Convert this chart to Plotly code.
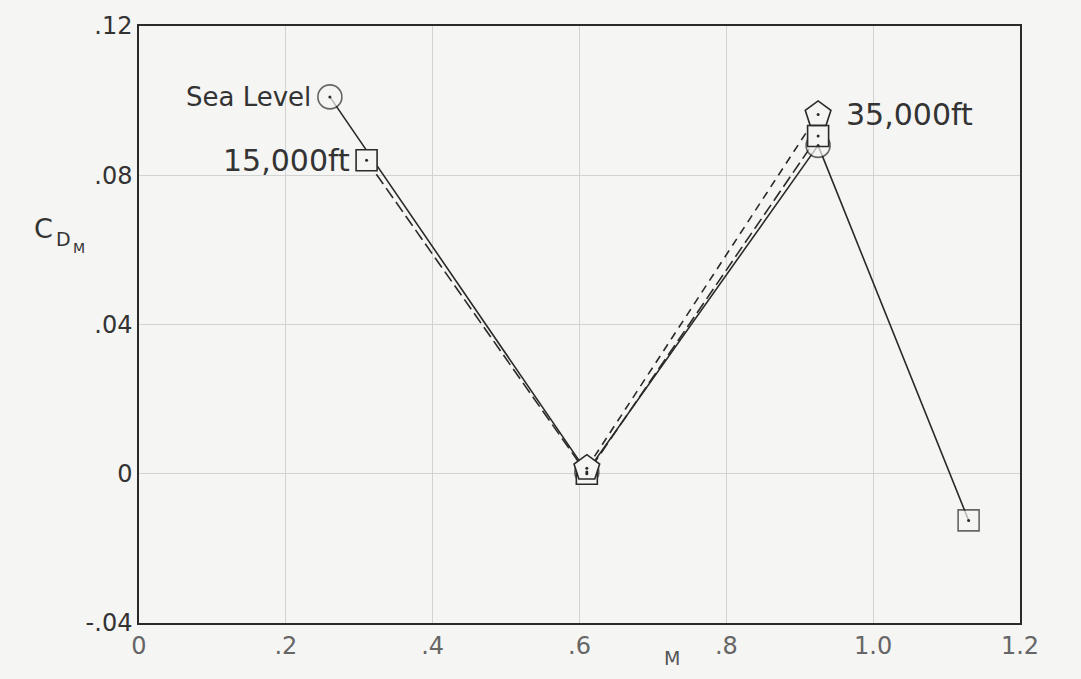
import plotly.graph_objects as go

# Data
mach_sea = [0.26, 0.61, 0.925, 1.13]
cdm_sea = [0.101, 0.0005, 0.088, -0.0125]
sym_sea = ["circle", "circle", "circle", "square"]

mach_15k = [0.31, 0.61, 0.925]
cdm_15k = [0.084, 0.0, 0.0905]

mach_35k = [0.61, 0.925]
cdm_35k = [0.0015, 0.0963]

x_ticks = [0, 0.2, 0.4, 0.6, 0.8, 1.0, 1.2]
x_ticktext = ["0", ".2", ".4", ".6", ".8", "1.0", "1.2"]
y_ticks = [-0.04, 0, 0.04, 0.08, 0.12]
y_ticktext = ["-.04", "0", ".04", ".08", ".12"]

INK = "#2a2a2a"
BG = "#f5f5f3"
FONT = "DejaVu Sans"

fig = go.Figure()

# lines
fig.add_trace(go.Scatter(x=mach_sea, y=cdm_sea, mode="lines",
                         line=dict(color=INK, width=1.6), showlegend=False))
fig.add_trace(go.Scatter(x=mach_15k, y=cdm_15k, mode="lines",
                         line=dict(color=INK, width=1.6, dash="12px,5px"), showlegend=False))
fig.add_trace(go.Scatter(x=mach_35k, y=cdm_35k, mode="lines",
                         line=dict(color=INK, width=1.6, dash="8px,6px"), showlegend=False))

# markers (filled with background so lines stop at edges)
fig.add_trace(go.Scatter(x=mach_sea, y=cdm_sea, mode="markers",
                         marker=dict(symbol=sym_sea, size=[24, 24, 24, 21], color=BG,
                                     line=dict(color=INK, width=1.6)),
                         showlegend=False))
fig.add_trace(go.Scatter(x=mach_15k, y=cdm_15k, mode="markers",
                         marker=dict(symbol="square", size=21, color=BG,
                                     line=dict(color=INK, width=1.6)),
                         showlegend=False))
fig.add_trace(go.Scatter(x=mach_35k, y=cdm_35k, mode="markers",
                         marker=dict(symbol="pentagon", size=27, color=BG,
                                     line=dict(color=INK, width=1.6)),
                         showlegend=False))
# center dots
for xs, ys in [(mach_sea, cdm_sea), (mach_15k, cdm_15k), (mach_35k, cdm_35k)]:
    fig.add_trace(go.Scatter(x=xs, y=ys, mode="markers",
                             marker=dict(symbol="circle", size=3, color=INK),
                             showlegend=False))

# labels
fig.add_annotation(x=mach_sea[0], y=cdm_sea[0], text="Sea Level", showarrow=False,
                   xanchor="right", xshift=-17, font=dict(family=FONT, size=26, color="#333"))
fig.add_annotation(x=mach_15k[0], y=cdm_15k[0], text="15,000ft", showarrow=False,
                   xanchor="right", xshift=-15, font=dict(family=FONT, size=30, color="#333"))
fig.add_annotation(x=mach_35k[1], y=cdm_35k[1], text="35,000ft", showarrow=False,
                   xanchor="left", xshift=26, font=dict(family=FONT, size=30, color="#333"))

# y-axis title C_D_M
fig.add_annotation(xref="paper", yref="paper", x=-0.122, y=0.66, text="C",
                   showarrow=False, xanchor="left", font=dict(family=FONT, size=27, color="#333"))
fig.add_annotation(xref="paper", yref="paper", x=-0.096, y=0.643, text="D",
                   showarrow=False, xanchor="left", font=dict(family=FONT, size=19, color="#333"))
fig.add_annotation(xref="paper", yref="paper", x=-0.077, y=0.628, text="M",
                   showarrow=False, xanchor="left", font=dict(family=FONT, size=14, color="#333"))

# x-axis title
fig.add_annotation(xref="paper", yref="paper", x=0.605, y=-0.058, text="M",
                   showarrow=False, yanchor="middle", font=dict(family=FONT, size=19, color="#555"))

fig.update_layout(
    width=1081, height=679,
    margin=dict(l=139, r=61, t=22, b=56),
    paper_bgcolor=BG, plot_bgcolor=BG,
    font=dict(family=FONT, color="#333"),
    xaxis=dict(range=[0, 1.2], tickvals=x_ticks, ticktext=x_ticktext,
               showgrid=True, gridcolor="#d2d2d0", gridwidth=1,
               showline=True, linecolor=INK, linewidth=1.5, mirror=True,
               zeroline=False, ticks="", ticklabelstandoff=0,
               tickfont=dict(size=24, color="#666")),
    yaxis=dict(range=[-0.04, 0.12], tickvals=y_ticks, ticktext=y_ticktext,
               showgrid=True, gridcolor="#d2d2d0", gridwidth=1,
               showline=True, linecolor=INK, linewidth=1.5, mirror=True,
               zeroline=False, ticks="", tickfont=dict(size=24, color="#333")),
)

fig.write_html("out.html")
